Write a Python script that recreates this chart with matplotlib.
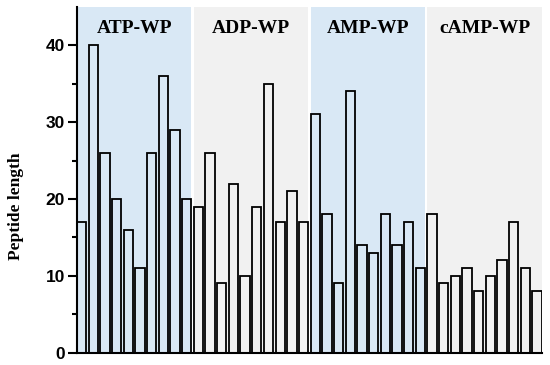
import matplotlib
matplotlib.use("Agg")
import matplotlib.pyplot as plt
import numpy as np

groups = ["ATP-WP", "ADP-WP", "AMP-WP", "cAMP-WP"]
atp = [17, 40, 26, 20, 16, 11, 26, 36, 29, 20]
adp = [19, 26, 9, 22, 10, 19, 35, 17, 21, 17]
amp = [31, 18, 9, 34, 14, 13, 18, 14, 17, 11]
camp = [18, 9, 10, 11, 8, 10, 12, 17, 11, 8]
series = [atp, adp, amp, camp]
bg_colors = ["#d9e8f5", "#f1f1f1", "#d9e8f5", "#f1f1f1"]

fig = plt.figure(figsize=(5.5, 3.65), dpi=100)
ax = fig.add_axes([0.14, 0.034, 0.845, 0.947])

values = [v for s in series for v in s]
x = np.arange(len(values))
w = 0.8
start = 0
for gi, (name, s) in enumerate(zip(groups, series)):
    n = len(s)
    left = start - w / 2
    right = start + n - 1 + w / 2
    ax.axvspan(left, right, color=bg_colors[gi], zorder=0, lw=0)
    ax.text((left + right) / 2, 41.6, name, ha="center", va="baseline",
            fontsize=14, fontweight="bold", family="Liberation Serif")
    start += n

ax.bar(x, values, width=w, facecolor="none", edgecolor="black", linewidth=1.3, zorder=2)

ax.set_xlim(-w / 2, len(values) - 1 + w / 2)
ax.set_ylim(0, 45)
ax.set_yticks([0, 10, 20, 30, 40])
ax.set_yticks([5, 15, 25, 35], minor=True)
ax.set_xticks([])
ax.spines["top"].set_visible(False)
ax.spines["right"].set_visible(False)
ax.spines["left"].set_linewidth(1.5)
ax.spines["bottom"].set_linewidth(1.5)
ax.tick_params(axis="y", which="major", length=6.5, width=1.5, labelsize=12.5, pad=2)
ax.tick_params(axis="y", which="minor", length=3.5, width=1.5)
for lbl in ax.get_yticklabels():
    lbl.set_fontweight("bold")
    lbl.set_family("Liberation Sans")
ax.set_ylabel("Peptide length", fontsize=12.5, fontweight="bold", family="Liberation Serif")
ax.yaxis.set_label_coords(-0.114, 0.423)
ax.set_facecolor("white")

fig.savefig("out.png", dpi=100)
